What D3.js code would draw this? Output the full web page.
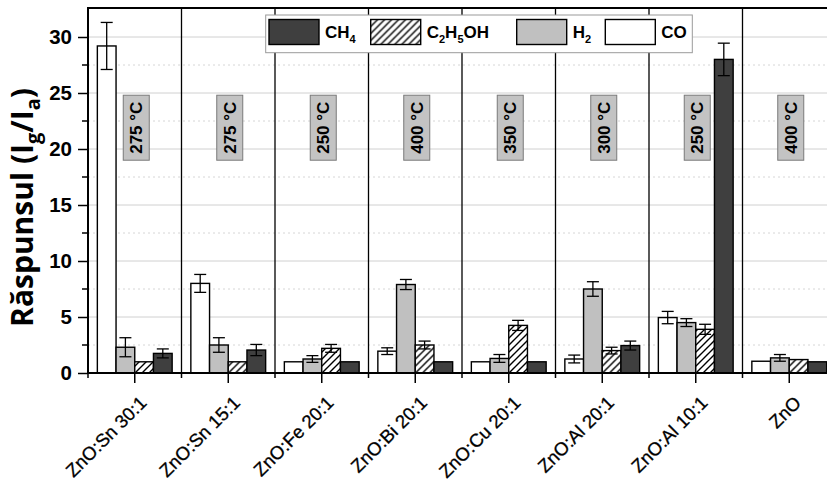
<!DOCTYPE html>
<html>
<head>
<meta charset="utf-8">
<script src="https://cdn.jsdelivr.net/npm/d3@7"></script>
<style>
  body { margin: 0; background: #fff; }
  svg { display: block; }
  text { font-family: 'Liberation Sans', Arial, sans-serif; }
</style>
</head>
<body>
<svg id="chart" width="827" height="481"></svg>
<script>
const categories = ['ZnO:Sn 30:1', 'ZnO:Sn 15:1', 'ZnO:Fe 20:1', 'ZnO:Bi 20:1', 'ZnO:Cu 20:1', 'ZnO:Al 20:1', 'ZnO:Al 10:1', 'ZnO'];
const temps = ['275', '275', '250', '400', '350', '300', '250', '400'];
const co = [29.2, 8.0, 1.0, 1.95, 1.0, 1.25, 4.95, 1.05];
const coErr = [2.1, 0.8, 0, 0.3, 0, 0.35, 0.55, 0];
const h2 = [2.3, 2.5, 1.25, 7.9, 1.3, 7.5, 4.5, 1.35];
const h2Err = [0.85, 0.65, 0.3, 0.45, 0.35, 0.65, 0.35, 0.3];
const c2h5oh = [1.0, 1.0, 2.2, 2.5, 4.25, 2.0, 3.9, 1.2];
const c2h5ohErr = [0, 0, 0.35, 0.35, 0.45, 0.3, 0.45, 0];
const ch4 = [1.75, 2.05, 1.0, 1.0, 1.0, 2.45, 28.0, 1.0];
const ch4Err = [0.4, 0.5, 0, 0, 0, 0.4, 1.45, 0];
const yTicks = [0, 5, 10, 15, 20, 25, 30];
const yMinor = [2.5, 7.5, 12.5, 17.5, 22.5, 27.5];

const series = [
  { key: 'CO', values: co, err: coErr, fill: '#ffffff' },
  { key: 'H2', values: h2, err: h2Err, fill: '#c0c0c0' },
  { key: 'C2H5OH', values: c2h5oh, err: c2h5ohErr, fill: 'url(#hatch)' },
  { key: 'CH4', values: ch4, err: ch4Err, fill: '#3f3f3f' }
];

const svg = d3.select('#chart');
const mLeft = 88, mTop = 8, mBottom = 373, groupW = 93.5;

const x = d3.scaleBand()
  .domain(categories)
  .range([mLeft, mLeft + groupW * categories.length]);
const xi = d3.scaleBand()
  .domain(series.map(s => s.key))
  .range([0, x.bandwidth()])
  .paddingOuter(0.5);
const y = d3.scaleLinear().domain([0, 32.5]).range([mBottom, mTop + 1]);

const defs = svg.append('defs');
const pat = defs.append('pattern')
  .attr('id', 'hatch')
  .attr('patternUnits', 'userSpaceOnUse')
  .attr('width', 7).attr('height', 7);
pat.append('rect').attr('width', 7).attr('height', 7).attr('fill', '#fff');
pat.append('path')
  .attr('d', 'M-1,1 l2,-2 M0,7 l7,-7 M6,8 l2,-2')
  .attr('stroke', '#000').attr('stroke-width', 1.4);

// grid
svg.append('g')
  .selectAll('line')
  .data(yMinor)
  .join('line')
  .attr('x1', mLeft).attr('x2', 827)
  .attr('y1', d => y(d)).attr('y2', d => y(d))
  .attr('stroke', '#d6d6d6').attr('stroke-dasharray', '2,3');
svg.append('g')
  .selectAll('line')
  .data(yTicks.slice(1))
  .join('line')
  .attr('x1', mLeft).attr('x2', 827)
  .attr('y1', d => y(d)).attr('y2', d => y(d))
  .attr('stroke', '#d0d0d0');

// group separators
svg.append('g')
  .selectAll('line')
  .data(categories.slice(1))
  .join('line')
  .attr('x1', d => x(d)).attr('x2', d => x(d))
  .attr('y1', mTop).attr('y2', mBottom)
  .attr('stroke', '#000').attr('stroke-width', 1.3);

// temperature labels
const tl = svg.append('g')
  .selectAll('g')
  .data(categories)
  .join('g')
  .attr('transform', d => `translate(${x(d) + x.bandwidth() / 2 + 1.5},${y(21.9)})`);
tl.append('rect')
  .attr('x', -13).attr('y', -32.5)
  .attr('width', 26).attr('height', 65)
  .attr('fill', '#c3c3c3').attr('stroke', '#7a7a7a');
tl.append('text')
  .attr('transform', 'rotate(-90)')
  .attr('text-anchor', 'middle')
  .attr('dy', '0.36em')
  .attr('font-size', 17)
  .attr('font-weight', 'bold')
  .text((d, i) => `${temps[i]} °C`);

// bars
const groups = svg.append('g')
  .selectAll('g')
  .data(categories)
  .join('g')
  .attr('transform', d => `translate(${x(d)},0)`);

groups.selectAll('rect')
  .data((d, i) => series.map(s => ({ key: s.key, v: s.values[i], fill: s.fill })))
  .join('rect')
  .attr('x', d => xi(d.key))
  .attr('width', xi.bandwidth())
  .attr('y', d => y(d.v))
  .attr('height', d => y(0) - y(d.v))
  .attr('fill', d => d.fill)
  .attr('stroke', '#000')
  .attr('stroke-width', 1.4);

const errs = groups.selectAll('g.err')
  .data((d, i) => series.map(s => ({ key: s.key, v: s.values[i], e: s.err[i] })).filter(d => d.e > 0))
  .join('g')
  .attr('class', 'err')
  .attr('transform', d => `translate(${xi(d.key) + xi.bandwidth() / 2},0)`)
  .attr('stroke', '#000')
  .attr('stroke-width', 1.3);
errs.append('line')
  .attr('y1', d => y(d.v + d.e)).attr('y2', d => y(d.v - d.e));
errs.append('line')
  .attr('x1', -6).attr('x2', 6)
  .attr('y1', d => y(d.v + d.e)).attr('y2', d => y(d.v + d.e));
errs.append('line')
  .attr('x1', -6).attr('x2', 6)
  .attr('y1', d => y(d.v - d.e)).attr('y2', d => y(d.v - d.e));

// axes
const yAxis = svg.append('g')
  .attr('transform', `translate(${mLeft},0)`)
  .call(d3.axisLeft(y).tickValues(yTicks).tickSize(10).tickPadding(6).tickFormat(d3.format('d')));
yAxis.select('.domain').remove();
yAxis.selectAll('.tick line').attr('stroke-width', 1.5);
yAxis.selectAll('text').attr('font-size', 20.5).attr('font-weight', 'bold').attr('fill', '#000')
  .style('font-family', "'Liberation Sans', Arial, sans-serif");
svg.append('g')
  .selectAll('line')
  .data(yMinor)
  .join('line')
  .attr('x1', mLeft - 6).attr('x2', mLeft)
  .attr('y1', d => y(d)).attr('y2', d => y(d))
  .attr('stroke', '#000').attr('stroke-width', 1.5);

const xAxis = svg.append('g')
  .attr('transform', `translate(0,${mBottom})`)
  .call(d3.axisBottom(x).tickSize(10).tickFormat(''));
xAxis.select('.domain').remove();
xAxis.selectAll('.tick line').attr('stroke-width', 1.5);
svg.append('g')
  .selectAll('line')
  .data(categories)
  .join('line')
  .attr('x1', d => x(d)).attr('x2', d => x(d))
  .attr('y1', mBottom).attr('y2', mBottom + 5)
  .attr('stroke', '#000').attr('stroke-width', 1.5);

svg.append('g')
  .selectAll('text')
  .data(categories)
  .join('text')
  .attr('transform', d => `translate(${x(d) + x.bandwidth() / 2 + 13},${mBottom + 31}) rotate(-45)`)
  .attr('text-anchor', 'end')
  .attr('font-size', 18.5)
  .attr('stroke', '#000')
  .attr('stroke-width', 0.3)
  .text(d => d);

// frame
svg.append('path')
  .attr('d', `M${mLeft},${mBottom}V${mTop}H827M${mLeft},${mBottom}H827`)
  .attr('fill', 'none').attr('stroke', '#000').attr('stroke-width', 2);

// y title
const yt = svg.append('text')
  .attr('transform', `translate(33,${(85 + 330) / 2}) rotate(-90)`)
  .attr('text-anchor', 'middle')
  .style('font-family', "'Open Sans', sans-serif")
  .attr('font-size', 30)
  .attr('font-weight', 'bold');
yt.append('tspan').text('Răspunsul (I');
yt.append('tspan').attr('font-size', 20).attr('dy', 7).text('g');
yt.append('tspan').attr('dy', -7).text('/I');
yt.append('tspan').attr('font-size', 20).attr('dy', 7).text('a');
yt.append('tspan').attr('dy', -7).text(')');

// legend
const legendItems = [
  { fill: '#3f3f3f', x: 269, label: [['CH', 0], ['4', 1]] },
  { fill: 'url(#hatch)', x: 370.7, label: [['C', 0], ['2', 1], ['H', 0], ['5', 1], ['OH', 0]] },
  { fill: '#c0c0c0', x: 516.7, label: [['H', 0], ['2', 1]] },
  { fill: '#ffffff', x: 605.3, label: [['CO', 0]] }
];
const lg = svg.append('g');
lg.append('rect')
  .attr('x', 265.7).attr('y', 15)
  .attr('width', 426.6).attr('height', 37.7)
  .attr('fill', '#fff').attr('stroke', '#9a9a9a');
const li = lg.selectAll('g')
  .data(legendItems)
  .join('g')
  .attr('transform', d => `translate(${d.x},19.5)`);
li.append('rect')
  .attr('width', 50).attr('height', 25)
  .attr('fill', d => d.fill)
  .attr('stroke', '#000').attr('stroke-width', 1.4);
const lt = li.append('text')
  .attr('x', 56).attr('y', 18)
  .attr('font-size', 17)
  .attr('font-weight', 'bold');
lt.selectAll('tspan')
  .data(d => d.label)
  .join('tspan')
  .attr('font-size', d => d[1] ? 11 : 17)
  .attr('dy', (d, i, n) => {
    const prev = i > 0 ? d3.select(n[i - 1]).datum()[1] : 0;
    return (d[1] - prev) * 5;
  })
  .text(d => d[0]);
</script>
</body>
</html>
